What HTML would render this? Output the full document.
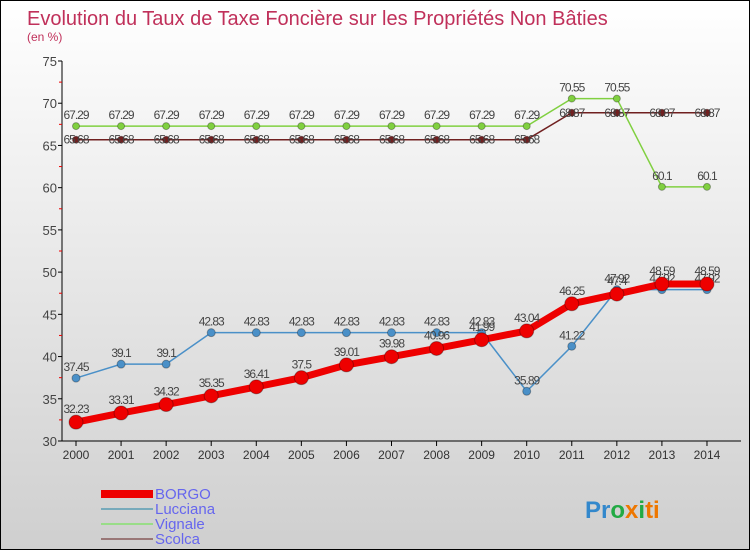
<!DOCTYPE html>
<html><head><meta charset="utf-8"><style>
body{margin:0}
#c{width:748px;height:548px;border:1px solid #000;background:linear-gradient(#fff,#cfcfcf);position:relative;font-family:"Liberation Sans",sans-serif;overflow:hidden}
</style></head><body>
<div id="c">
<svg id="s" width="748" height="548" style="position:absolute;left:0;top:0">
<text x="26" y="24" font-size="20" fill="#c0305a">Evolution du Taux de Taxe Foncière sur les Propriétés Non Bâties</text>
<text x="26" y="40" font-size="12" fill="#c0305a">(en %)</text>
<g id="axes"></g><g id="series"></g>
<g>
<rect x="100" y="489" width="52" height="8" fill="#e00"/>
<text x="154" y="498" font-size="15" fill="#66e">BORGO</text>
<rect x="100" y="507" width="52" height="2" fill="#7ab"/>
<text x="154" y="513" font-size="15" fill="#66e">Lucciana</text>
<rect x="100" y="522" width="52" height="2" fill="#9d8"/>
<text x="154" y="528" font-size="15" fill="#66e">Vignale</text>
<rect x="100" y="537" width="52" height="2" fill="#977"/>
<text x="154" y="543" font-size="15" fill="#66e">Scolca</text>
</g>
<text x="584" y="517" font-size="24" font-weight="bold"><tspan fill="#38c">Pr</tspan><tspan fill="#2a4">o</tspan><tspan fill="#e70">x</tspan><tspan fill="#2a4">i</tspan><tspan fill="#e70">ti</tspan></text>
</svg></div>
<script>
const years=[2000,2001,2002,2003,2004,2005,2006,2007,2008,2009,2010,2011,2012,2013,2014];
const yTicks=[30,35,40,45,50,55,60,65,70,75];
const borgo=[32.23,33.31,34.32,35.35,36.41,37.5,39.01,39.98,40.96,41.99,43.04,46.25,47.4,48.59,48.59];
const lucciana=[37.45,39.1,39.1,42.83,42.83,42.83,42.83,42.83,42.83,42.83,35.89,41.22,47.92,47.92,47.92];
const vignale=[67.29,67.29,67.29,67.29,67.29,67.29,67.29,67.29,67.29,67.29,67.29,70.55,70.55,60.1,60.1];
const scolca=[65.68,65.68,65.68,65.68,65.68,65.68,65.68,65.68,65.68,65.68,65.68,68.87,68.87,68.87,68.87];
const NS="http://www.w3.org/2000/svg";
const X=i=>75+i*45.07, Y=v=>440-(v-30)*380/45;
function el(t,a,p){const e=document.createElementNS(NS,t);for(const k in a)e.setAttribute(k,a[k]);p.appendChild(e);return e;}
const ax=document.getElementById('axes'),sr=document.getElementById('series');
let a=el('line',{x1:61,y1:60,x2:61,y2:440,stroke:'#000'},ax);

a=el('line',{x1:61,y1:440,x2:740,y2:440,stroke:'#000'},ax);

yTicks.forEach((v,i)=>{el('line',{x1:57,x2:61,y1:Y(v),y2:Y(v),stroke:'#000'},ax);
 if(i<yTicks.length-1)el('line',{x1:58,x2:61,y1:Y(v+2.5),y2:Y(v+2.5),stroke:'#e00'},ax);
 const t=el('text',{x:56,y:Y(v)+5,'font-size':13,fill:'#444','text-anchor':'end'},ax);t.textContent=v;
 });
years.forEach((y,i)=>{el('line',{x1:X(i),x2:X(i),y1:440,y2:445,stroke:'#000'},ax);
 const t=el('text',{x:X(i),y:458,'font-size':12,fill:'#333','text-anchor':'middle'},ax);t.textContent=y;
 });
function draw(name,d,col,w,r,lab){
 const g=el('g',{},sr);
 el('polyline',{points:d.map((v,i)=>X(i)+','+Y(v)).join(' '),fill:'none',stroke:col,'stroke-width':w},g);
 d.forEach((v,i)=>{const c=el('circle',{cx:X(i),cy:Y(v),r:r,fill:col,stroke:'rgba(0,0,0,0.3)'},g);
  
  const t=el('text',{x:X(i),y:Y(v)-lab,'font-size':12,fill:'#444','text-anchor':'middle','letter-spacing':'-1'},g);t.textContent=v;
  });
}
draw('scolca',scolca,'#702020',1.5,3.5,-4);
draw('vignale',vignale,'#80d040',1.5,3.5,7);
draw('lucciana',lucciana,'#4a90c8',1.5,4,7);
draw('borgo',borgo,'#ee0000',7,7,9);
</script></body></html>
